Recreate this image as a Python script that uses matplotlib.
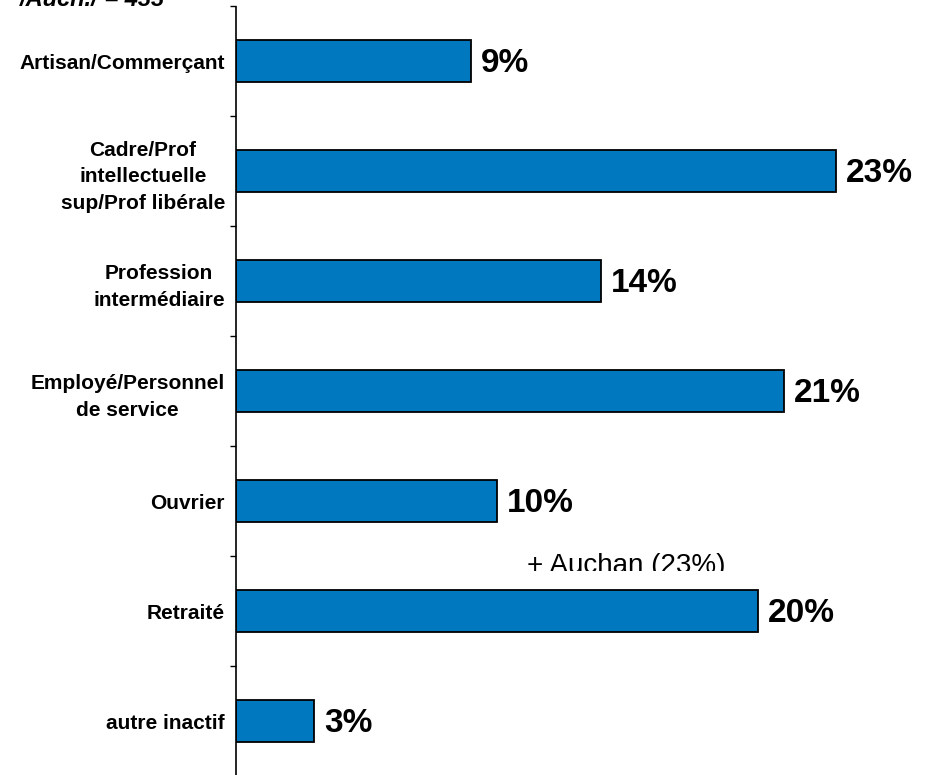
import matplotlib
matplotlib.use("Agg")
import matplotlib.pyplot as plt
import numpy as np
from matplotlib.transforms import Bbox, TransformedBbox

plt.rcParams['font.family'] = ['Liberation Sans', 'DejaVu Sans']

categories = ["Artisan/Commerçant",
              "Cadre/Prof\nintellectuelle\nsup/Prof libérale",
              "Profession\nintermédiaire",
              "Employé/Personnel\nde service",
              "Ouvrier",
              "Retraité",
              "autre inactif"]
values = [9, 23, 14, 21, 10, 20, 3]
labels = ["9%", "23%", "14%", "21%", "10%", "20%", "3%"]
note = "+ Auchan (23%)"
base_text = "/Auch./ = 433"

W, H = 929, 775
fig = plt.figure(figsize=(W / 100, H / 100), dpi=100)
# axes: left spine at x=236px, categories 110px apart from y=6px
ax = fig.add_axes([236 / W, 1 - 776 / H, 1 - 236 / W, 770 / H])

pos = np.arange(len(categories))
ax.barh(pos, values, height=0.39, color='#0078C0', edgecolor='black', linewidth=1.3)
ax.set_ylim(len(categories) - 0.5, -0.5)
ax.set_xlim(0, (W - 236) / 26.1)

for p, v, lab in zip(pos, values, labels):
    ax.annotate(lab, (v, p), xytext=(7, -1.5), textcoords='offset points',
                ha='left', va='center', fontsize=24, fontweight='bold')

ax.set_yticks(pos)
ax.set_yticklabels(categories, fontsize=15, fontweight='bold', linespacing=1.5,
                   multialignment='center')
ax.set_yticks(np.arange(len(categories) + 1) - 0.5, minor=True)
ax.tick_params(axis='y', which='major', length=0, pad=8)
ax.tick_params(axis='y', which='minor', length=4, width=1, direction='out')
ax.set_xticks([])
for s in ['top', 'right', 'bottom']:
    ax.spines[s].set_visible(False)
ax.spines['left'].set_linewidth(1.2)
ax.spines['left'].set_bounds(-0.5 + 1 / 110, len(categories) - 0.5)

# note, cut at the bottom as in the source
t = fig.text(527 / W, 1 - 573 / H, note, fontsize=20, ha='left', va='baseline')
t.set_clip_box(TransformedBbox(Bbox([[0, 1 - 571 / H], [1, 1]]), fig.transFigure))
t.set_clip_on(True)

# base line text, mostly off the top edge
fig.text(20 / W, 1 - 6 / H, base_text, fontsize=17, fontstyle='italic',
         fontweight='bold', ha='left', va='baseline')

fig.savefig("out.png", dpi=100)
